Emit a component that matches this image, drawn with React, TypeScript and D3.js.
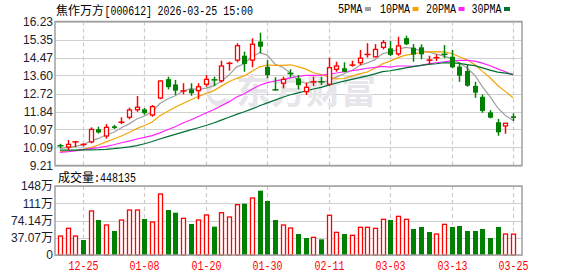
import React from "react";
import * as d3 from "d3";

const dates = [
  "12-22","12-23","12-24","12-25","12-26","12-29","12-30","12-31","01-05","01-06",
  "01-07","01-08","01-09","01-12","01-13","01-14","01-15","01-16","01-19","01-20",
  "01-21","01-22","01-23","01-26","01-27","01-28","01-29","01-30","02-02","02-03",
  "02-04","02-05","02-06","02-09","02-10","02-11","02-12","02-13","02-24","02-25",
  "02-26","02-27","03-02","03-03","03-04","03-05","03-06","03-09","03-10","03-11",
  "03-12","03-13","03-16","03-17","03-18","03-19","03-20","03-23","03-24","03-25",
];

const openP = [10.21,10.11,10.35,10.22,10.36,10.98,10.65,11.12,11.30,11.56,11.93,11.95,11.67,12.50,13.42,13.16,12.82,12.92,12.86,13.17,13.40,13.34,14.17,14.35,14.56,14.35,15.25,14.02,12.93,13.22,13.72,13.46,12.81,13.27,13.32,13.17,13.90,13.95,14.09,14.22,14.60,14.51,14.97,14.92,14.65,15.42,14.95,14.97,14.33,14.45,14.65,14.51,14.03,13.82,13.09,12.56,11.80,11.32,11.14,11.61];
const highP = [10.27,10.45,10.41,10.29,11.07,11.10,11.23,11.19,11.56,12.03,12.60,12.01,12.16,13.36,13.54,13.38,13.22,13.22,13.22,13.62,13.54,14.32,14.27,15.17,14.76,15.41,15.68,14.35,13.51,13.54,13.90,13.62,13.25,13.54,13.54,14.47,14.27,14.24,14.32,14.84,15.17,15.13,15.33,15.28,15.49,15.54,15.13,15.12,14.56,14.63,15.08,14.84,14.24,14.14,13.29,12.68,11.91,11.48,11.28,11.75];
const lowP = [10.05,9.97,10.10,10.13,10.29,10.77,10.52,10.99,11.23,11.46,11.83,11.69,11.59,12.44,12.92,12.65,12.68,12.61,12.44,13.05,13.09,13.25,13.83,14.24,13.78,14.00,14.68,13.46,12.86,12.97,13.51,12.92,12.65,13.09,13.13,13.10,13.78,13.75,14.03,14.11,14.47,14.48,14.87,14.55,14.56,15.08,14.27,14.39,14.14,14.30,14.44,13.95,13.29,13.05,12.51,11.78,11.51,10.66,10.76,11.38];
const closeP = [10.14,10.24,10.38,10.25,10.97,10.82,11.07,11.04,11.34,11.92,12.05,11.76,12.08,13.33,13.03,12.86,12.87,12.73,13.05,13.41,13.37,14.06,14.21,15.05,14.16,15.12,15.00,13.62,12.87,13.41,13.68,13.13,13.02,13.30,13.26,13.98,14.06,13.78,14.12,14.44,14.65,14.87,15.20,14.60,15.04,15.12,14.62,14.63,14.36,14.48,14.61,14.00,13.59,13.10,12.76,11.87,11.54,10.83,11.27,11.53];

const ma5 = [10.04,10.08,10.14,10.22,10.40,10.53,10.70,10.83,11.05,11.24,11.48,11.62,11.83,12.23,12.45,12.61,12.83,12.96,12.91,12.98,13.09,13.32,13.62,14.02,14.17,14.52,14.71,14.59,14.15,14.00,13.72,13.34,13.22,13.31,13.28,13.34,13.52,13.68,13.84,14.08,14.21,14.37,14.66,14.75,14.87,14.97,14.92,14.80,14.75,14.64,14.54,14.42,14.21,13.96,13.61,13.06,12.57,12.02,11.65,11.41];
const ma10 = [9.88,9.91,9.95,10.00,10.08,10.21,10.36,10.50,10.65,10.82,11.01,11.16,11.33,11.64,11.84,12.05,12.23,12.40,12.57,12.72,12.85,13.08,13.29,13.46,13.58,13.80,14.02,14.11,14.09,14.09,14.12,14.03,13.91,13.73,13.64,13.53,13.43,13.45,13.57,13.68,13.77,13.95,14.17,14.30,14.47,14.59,14.64,14.73,14.75,14.76,14.75,14.67,14.51,14.36,14.13,13.80,13.49,13.11,12.81,12.51];
const ma20 = [9.85,9.88,9.92,9.98,10.03,10.08,10.14,10.22,10.32,10.40,10.50,10.58,10.67,10.80,10.95,11.10,11.28,11.43,11.60,11.77,11.93,12.12,12.31,12.55,12.71,12.93,13.12,13.25,13.33,13.40,13.48,13.55,13.60,13.60,13.61,13.67,13.72,13.78,13.83,13.88,13.95,13.99,14.04,14.01,14.06,14.06,14.04,14.09,14.16,14.22,14.26,14.31,14.34,14.33,14.30,14.20,14.07,13.92,13.78,13.63];
const ma30 = [9.96,9.96,9.96,9.97,9.97,9.98,10.00,10.03,10.07,10.12,10.18,10.27,10.38,10.50,10.62,10.73,10.84,10.95,11.05,11.16,11.28,11.42,11.56,11.70,11.83,11.97,12.12,12.26,12.40,12.54,12.66,12.75,12.84,12.94,13.02,13.13,13.23,13.32,13.41,13.49,13.58,13.68,13.79,13.83,13.90,13.97,14.03,14.09,14.14,14.17,14.22,14.21,14.19,14.13,14.08,13.97,13.86,13.76,13.71,13.65];

// volume in 万 shares
const volume = [40.8,57.3,40.8,32.2,94.6,75.2,64.5,51.6,75.2,96.7,96.7,77.4,70.9,131.1,96.7,90.9,78.8,66.6,75.2,86.0,60.9,90.9,81.7,108.2,110.3,122.5,138.2,116.0,75.2,64.5,58.0,45.1,36.5,38.0,33.7,85.3,48.7,45.1,42.3,59.5,59.5,57.3,76.7,75.2,83.1,76.7,55.9,60.2,49.4,45.1,65.9,60.2,62.3,51.6,51.6,55.9,36.5,60.2,45.1,44.8];
const volUp = [1,1,1,0,1,0,1,0,1,1,1,0,1,1,0,0,1,0,1,1,0,1,1,1,0,1,0,0,0,1,1,0,0,1,0,1,1,0,1,1,1,1,1,0,1,1,0,0,0,1,1,0,0,0,0,0,0,0,1,1];

const priceTicks = [16.23, 15.35, 14.47, 13.6, 12.72, 11.84, 10.97, 10.09, 9.21];
const priceTickLabels = ["16.23","15.35","14.47","13.60","12.72","11.84","10.97","10.09","9.21"];
const volTicks = [148.28, 111.21, 74.14, 37.07, 0];
const volTickLabels = ["148万", "111万", "74.14万", "37.07万", "0"];
const xTickLabels = ["12-25","01-08","01-20","01-30","02-11","03-03","03-13","03-25"];

const maSeries = [
  { name: "5PMA", values: ma5, color: "#a0a0a0" },
  { name: "10PMA", values: ma10, color: "#f5a300" },
  { name: "20PMA", values: ma20, color: "#ff22ff" },
  { name: "30PMA", values: ma30, color: "#006f36" },
];

const RED = "#ff0000";
const GREEN = "#008000";
const L = 55, R = 522, PT = 21.5, PB = 165.5, VT = 186, VB = 255;
const MONO = "'Liberation Mono', 'DejaVu Sans Mono', monospace";
const CJK = "'Noto Sans CJK SC', sans-serif";
const SANS = "'Liberation Sans', Arial, 'Noto Sans CJK SC', sans-serif";

export default function App() {
  const x = d3.scalePoint<string>().domain(dates).range([60, 513.1]);
  const y = d3.scaleLinear().domain([9.21, 16.23]).range([PB, PT]);
  const yv = d3.scaleLinear().domain([0, 148.28]).range([VB, VT]);
  const cxOf = (i: number) => Math.round(x(dates[i]) as number);

  const line = (vals: number[]) =>
    d3.line<number>().x((_, i) => x(dates[i]) as number).y((v) => y(v))(vals) || "";

  const gridXs = xTickLabels.map((d) => Math.round(x(d) as number) + 0.5);

  return (
    <svg width={578} height={276} style={{ position: "absolute", left: 0, top: 0, background: "#fff" }}>
      {/* title */}
      <text x={56} y={15} fontSize={12} fontFamily={CJK} fill="#000">焦作万方</text>
      <text x={104.5} y={15} fontSize={12} fontFamily={MONO} fill="#000" textLength={47.5} lengthAdjust="spacingAndGlyphs">[000612]</text>
      <text x={157.5} y={15} fontSize={12} fontFamily={MONO} fill="#000" textLength={95.5} lengthAdjust="spacingAndGlyphs">2026-03-25 15:00</text>
      {/* legend */}
      {maSeries.map((s, k) => {
        const tx = [338, 380, 426, 471.5][k];
        const tw = [24.5, 30, 30, 30][k];
        const sx = [365, 412.5, 458.5, 504][k];
        return (
          <g key={s.name}>
            <text x={tx} y={12.7} fontSize={12} fontFamily={MONO} fill="#000" textLength={tw} lengthAdjust="spacingAndGlyphs">{s.name}</text>
            <rect x={sx} y={7} width={6} height={4} fill={s.color} />
          </g>
        );
      })}

      {/* price panel grid */}
      {priceTicks.map((t, i) => (
        <line key={"pg" + i} x1={L} x2={R} y1={Math.round(y(t)) + 0.5} y2={Math.round(y(t)) + 0.5} stroke="#d0d0d0" strokeWidth={1.2} />
      ))}
      {gridXs.map((gx, i) => (
        <line key={"pv" + i} x1={gx} x2={gx} y1={PT} y2={PB} stroke="#cccccc" strokeWidth={1.2} strokeDasharray="4,3" />
      ))}
      {/* watermark */}
      <text x={236} y={104} fontSize={35} fontFamily={CJK} fontWeight="bold" fill="#e6e6ea">东方财富</text>
      <path d="M212,80 Q200,92 212,104 Q222,110 230,100 L224,98 Q218,104 212,98 Q207,92 216,84 Z" fill="#e6e6ea" />

      {/* price labels */}
      {priceTicks.map((t, i) => (
        <text key={"pl" + i} x={53} y={y(t) + 4.3} textAnchor="end" fontSize={12} fontFamily={SANS} fill="#1c1c2c">{priceTickLabels[i]}</text>
      ))}

      {/* MA lines */}
      {maSeries.map((s) => (
        <path key={s.name} d={line(s.values)} fill="none" stroke={s.color} strokeWidth={1.2} />
      ))}

      {/* candles */}
      {dates.map((d, i) => {
        const o = openP[i], c = closeP[i], h = highP[i], l = lowP[i];
        const up = c >= o;
        const color = up ? RED : GREEN;
        const cx = cxOf(i);
        const top = y(Math.max(o, c));
        const bot = y(Math.min(o, c));
        const bh = bot - top;
        return (
          <g key={"c" + i}>
            <line x1={cx + 0.5} x2={cx + 0.5} y1={y(h)} y2={y(l)} stroke={color} strokeWidth={1.5} />
            {bh < 1.6 ? (
              <line x1={cx - 2.5} x2={cx + 3.5} y1={(top + bot) / 2} y2={(top + bot) / 2} stroke={color} strokeWidth={1.5} />
            ) : up ? (
              <rect x={cx - 1.5} y={top} width={4} height={bh} fill="#fff" stroke={RED} strokeWidth={1.3} />
            ) : (
              <rect x={cx - 2} y={top} width={5} height={bh} fill={GREEN} />
            )}
          </g>
        );
      })}

      {/* price frame */}
      <rect x={L} y={PT} width={R - L} height={PB - PT} fill="none" stroke="#a0a0a0" strokeWidth={1.5} />

      {/* volume panel */}
      <text x={58} y={182} fontSize={12} fontFamily={CJK} fill="#000">成交量</text>
      <text x={94} y={182} fontSize={12} fontFamily={MONO} fill="#000" textLength={42} lengthAdjust="spacingAndGlyphs">:448135</text>
      {volTicks.map((t, i) => (
        <line key={"vg" + i} x1={L} x2={R} y1={Math.round(yv(t)) + 0.5} y2={Math.round(yv(t)) + 0.5} stroke="#d0d0d0" strokeWidth={1.2} />
      ))}
      {gridXs.map((gx, i) => (
        <line key={"vv" + i} x1={gx} x2={gx} y1={VT} y2={VB} stroke="#cccccc" strokeWidth={1.2} strokeDasharray="4,3" />
      ))}
      {volTicks.map((t, i) => (
        <text key={"vl" + i} x={53} y={yv(t) + 4.3} textAnchor="end" fontSize={12} fontFamily={SANS} fill="#1c1c2c">{volTickLabels[i]}</text>
      ))}
      {volume.map((v, i) => {
        const cx = cxOf(i);
        const top = yv(v);
        return volUp[i] ? (
          <rect key={"v" + i} x={cx - 1.5} y={top} width={4} height={VB - top} fill="#fff" stroke={RED} strokeWidth={1.3} />
        ) : (
          <rect key={"v" + i} x={cx - 2} y={top} width={5} height={VB - top} fill={GREEN} />
        );
      })}
      <rect x={L} y={VT} width={R - L} height={VB - VT} fill="none" stroke="#a0a0a0" strokeWidth={1.5} />

      {/* x labels */}
      {xTickLabels.map((d, i) => (
        <text key={"xl" + i} x={gridXs[i]} y={270} textAnchor="middle" fontSize={12} fontFamily={MONO} fill={RED} textLength={30} lengthAdjust="spacingAndGlyphs">{d}</text>
      ))}
    </svg>
  );
}
